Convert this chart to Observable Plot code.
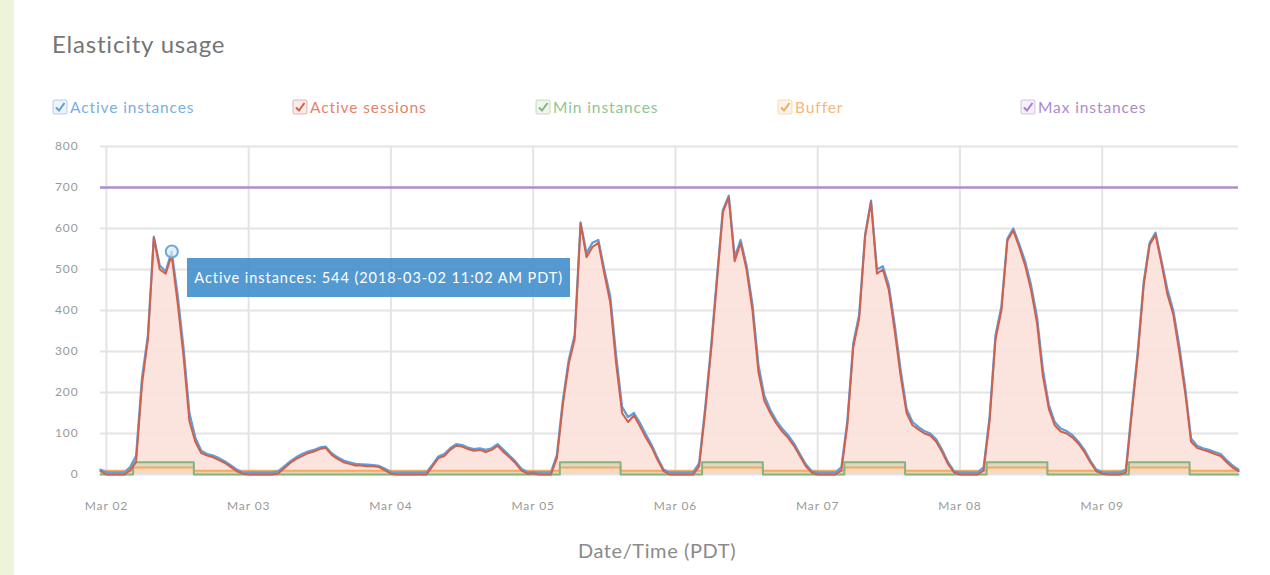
<!DOCTYPE html>
<html>
<head>
<meta charset="utf-8">
<script src="https://cdn.jsdelivr.net/npm/d3@7"></script>
<script src="https://cdn.jsdelivr.net/npm/@observablehq/plot@0.6"></script>
<style>
  html, body { margin: 0; padding: 0; background: #fff; }
  body { width: 1270px; height: 575px; position: relative; overflow: hidden; font-family: Lato, "Open Sans", sans-serif; }
  #strip { position: absolute; left: 0; top: 0; width: 14px; height: 575px; background: #eef3dc; }
  #title { position: absolute; left: 52px; top: 29px; font-size: 24px; color: #767676; letter-spacing: 0.8px; }
  .lg { position: absolute; top: 98px; display: flex; align-items: center; font-size: 15.5px; letter-spacing: 0.9px; white-space: nowrap; }
  .lg svg { margin-right: 2px; }
  #chart { position: absolute; left: 0; top: 130px; }
  #xlabel { position: absolute; left: 0; width: 1314px; text-align: center; top: 538px; font-size: 20px; letter-spacing: 0.6px; color: #8a8a8a; }
  #tip { position: absolute; background: rgba(66,142,204,0.9); color: #fff; font-size: 14.5px; letter-spacing: 0.95px; padding: 0 7px; height: 39px; line-height: 39px; white-space: nowrap; }
  #chart svg text { letter-spacing: 0.9px; }
</style>
</head>
<body>
<div id="strip"></div>
<div id="title">Elasticity usage</div>
<div id="legend"></div>
<div id="chart"></div>
<div id="xlabel">Date/Time (PDT)</div>
<script>
// ---- data ----
const seriesNames = ["Active instances", "Active sessions", "Min instances", "Buffer", "Max instances"];
const seriesColors = ["#5f9ed8", "#d0604b", "#86b47e", "#f2aa62", "#a67fc4"];
const legendTextColors = ["#7aafe0", "#e3836c", "#8fc58f", "#f4b877", "#ae8acb"];
const legendX = [52, 292, 535, 777, 1020];

const dayTicks = ["2018-03-02", "2018-03-03", "2018-03-04", "2018-03-05", "2018-03-06", "2018-03-07", "2018-03-08", "2018-03-09"];
const yTicks = [0, 100, 200, 300, 400, 500, 600, 700, 800];

// hourly samples from 2018-03-01 23:00 to 2018-03-09 23:00
const activeSessions = [
  8,
  0,0,0,0,10,30,220,330,578,500,490,535,420,290,130,80,52,46,42,35,28,18,8,2,
  0,0,0,0,0,3,15,28,38,45,52,56,62,65,48,38,30,26,22,22,20,20,18,10,
  2,0,0,0,0,0,0,20,40,45,60,70,68,62,58,60,55,60,70,55,42,28,10,2,
  3,0,0,0,40,170,270,330,612,530,555,565,490,420,270,150,128,144,118,90,66,35,8,0,
  0,0,0,0,20,150,300,470,640,676,520,565,500,400,250,180,150,125,105,90,70,45,20,5,
  0,0,0,0,10,120,310,380,580,665,490,500,450,350,240,150,120,110,100,95,80,55,25,5,
  0,0,0,0,10,130,330,400,570,595,555,510,450,370,240,160,120,105,100,90,75,55,30,8,
  2,0,0,0,5,150,290,460,560,585,515,440,390,300,200,80,65,60,56,50,45,30,17,8
];
const activeInstances = [
  12,
  5,5,5,5,18,45,235,340,580,510,495,544,440,310,150,90,58,50,46,40,32,22,12,5,
  5,5,5,5,5,8,20,32,42,50,56,60,66,68,52,42,34,30,26,25,24,23,21,14,
  6,5,5,5,5,5,5,24,44,50,64,74,72,66,62,64,60,64,74,60,46,32,14,6,
  6,5,5,5,48,180,280,340,615,540,565,572,500,435,290,165,140,150,126,98,72,40,12,5,
  5,5,5,5,28,160,310,480,645,680,530,572,510,415,268,192,158,132,112,96,76,50,25,8,
  5,5,5,5,18,130,320,390,585,668,500,508,462,365,255,160,128,116,106,100,86,60,30,8,
  5,5,5,5,18,140,340,410,575,600,562,520,462,385,255,170,128,112,106,96,80,60,34,12,
  6,5,5,5,12,160,300,470,565,590,522,452,400,315,212,88,70,64,60,55,50,35,22,12
];

const stepTimes = [
  "2018-03-01T23:00", "2018-03-02T04:30", "2018-03-02T14:45",
  "2018-03-05T04:30", "2018-03-05T14:45",
  "2018-03-06T04:30", "2018-03-06T14:45",
  "2018-03-07T04:30", "2018-03-07T14:45",
  "2018-03-08T04:30", "2018-03-08T14:45",
  "2018-03-09T04:30", "2018-03-09T14:45",
  "2018-03-09T23:00"
];
const minInstances = [0,30,0,30,0,30,0,30,0,30,0,30,0,0];
const bufferValues = [9,17,9,17,9,17,9,17,9,17,9,17,9,9];
const maxInstances = [700];

const tipTime = "2018-03-02T11:02";
const tipValue = 544;
const tipText = "Active instances: 544 (2018-03-02 11:02 AM PDT)";

// ---- build tables ----
const parse = s => new Date(s + ":00Z");
const start = parse("2018-03-01T23:00");
const end = parse("2018-03-09T23:00");
const hours = d3.utcHour.range(start, d3.utcHour.offset(end, 1));
const hourly = hours.map((t, i) => ({t, s: activeSessions[i], a: activeInstances[i]}));
const steps = stepTimes.map((s, i) => ({t: parse(s), min: minInstances[i], buf: bufferValues[i]}));
const tipPoint = [{t: parse(tipTime), v: tipValue}];
const dayDates = dayTicks.map(d => new Date(d + "T00:00:00Z"));

// ---- legend ----
const legend = document.getElementById("legend");
seriesNames.forEach((name, i) => {
  const c = seriesColors[i];
  const el = document.createElement("div");
  el.className = "lg";
  el.style.left = legendX[i] + "px";
  el.style.color = legendTextColors[i];
  el.innerHTML = `<svg width="16" height="16" viewBox="0 0 16 16">
    <rect x="1" y="1" width="14" height="14" rx="1.5" fill="${c}" fill-opacity="0.12" stroke="${c}" stroke-opacity="0.45"/>
    <path d="M4 8.5 L7 11.5 L12.5 4" fill="none" stroke="${c}" stroke-width="2"/>
  </svg><span>${name}</span>`;
  legend.appendChild(el);
});

// ---- chart ----
const chart = Plot.plot({
  width: 1270,
  height: 445,
  marginLeft: 100,
  marginRight: 32,
  marginTop: 16,
  marginBottom: 101,
  style: {color: "#9a9a9a", fontFamily: "Lato, sans-serif", background: "transparent"},
  x: {type: "utc", domain: [start, end]},
  y: {domain: [0, 800]},
  marks: [
    Plot.gridY(yTicks, {stroke: "#e4e4e4", strokeOpacity: 1, strokeWidth: 2}),
    Plot.gridX(dayDates, {stroke: "#e4e4e4", strokeOpacity: 1, strokeWidth: 2}),
    Plot.axisY(yTicks, {tickSize: 0, tickPadding: 22, fontSize: 12, label: null}),
    Plot.axisX(dayDates, {tickSize: 0, tickPadding: 27, fontSize: 12, label: null, tickFormat: d3.utcFormat("%b %d")}),
    Plot.areaY(hourly, {x: "t", y: "s", fill: "#fbe0da", fillOpacity: 0.9}),
    Plot.areaY(steps, {x: "t", y1: "buf", y2: "min", curve: "step-after", fill: "#b8c9a0", fillOpacity: 0.45}),
    Plot.areaY(steps, {x: "t", y: "buf", curve: "step-after", fill: "#f6cfa6", fillOpacity: 0.55}),
    Plot.ruleY(maxInstances, {stroke: seriesColors[4], strokeWidth: 2.5, strokeOpacity: 0.85}),
    Plot.line(steps, {x: "t", y: "buf", curve: "step-after", stroke: seriesColors[3], strokeWidth: 2}),
    Plot.line(steps, {x: "t", y: "min", curve: "step-after", stroke: seriesColors[2], strokeWidth: 2}),
    Plot.line(hourly, {x: "t", y: "a", stroke: seriesColors[0], strokeWidth: 2.2}),
    Plot.line(hourly, {x: "t", y: "s", stroke: seriesColors[1], strokeWidth: 2}),
    Plot.dot(tipPoint, {x: "t", y: "v", r: 6, stroke: "#6aa8e0", strokeWidth: 2, fill: "#dcecfa", fillOpacity: 0.7})
  ]
});
document.getElementById("chart").appendChild(chart);

// ---- tooltip annotation positioned through the scales ----
const px = chart.scale("x").apply(tipPoint[0].t);
const py = chart.scale("y").apply(tipPoint[0].v);
const tip = document.createElement("div");
tip.id = "tip";
tip.textContent = tipText;
tip.style.left = (px + 16) + "px";
tip.style.top = (130 + py + 7) + "px";
document.body.appendChild(tip);
</script>
</body>
</html>
